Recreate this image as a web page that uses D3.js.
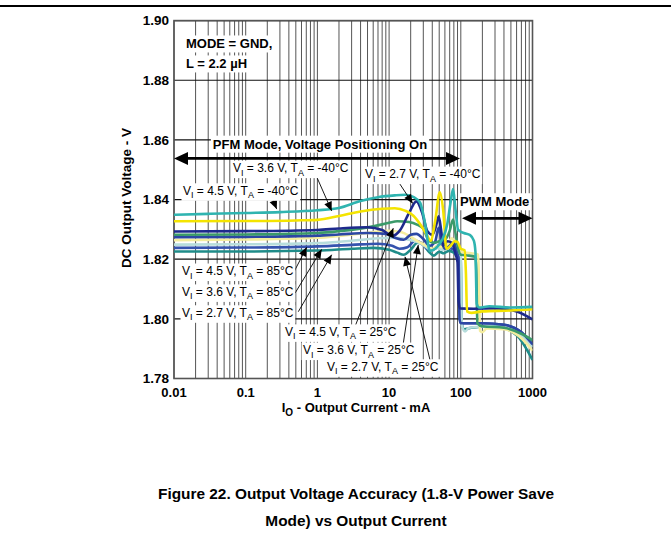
<!DOCTYPE html>
<html>
<head>
<meta charset="utf-8">
<script src="https://cdn.jsdelivr.net/npm/d3@7"></script>
<style>
  body { margin: 0; background: #fff; }
  text { font-family: "Liberation Sans", Arial, Helvetica, sans-serif; }
</style>
</head>
<body>
<svg id="chart" width="671" height="548"></svg>
<script>
// axes
const xDomain = [0.01, 1000];
const yDomain = [1.78, 1.90];
const xTicks = [0.01, 0.1, 1, 10, 100, 1000];
const xTickLabels = ["0.01", "0.1", "1", "10", "100", "1000"];
const yTicks = [1.78, 1.80, 1.82, 1.84, 1.86, 1.88, 1.90];
const yTickLabels = ["1.78", "1.80", "1.82", "1.84", "1.86", "1.88", "1.90"];

// series, [I (mA), Vout (V)]
const vi36_m40 = [[0.01,1.8349],[0.03,1.8352],[0.1,1.8355],[0.3,1.8358],[1,1.8364],[2,1.8372],[4,1.8395],[7,1.8408],[12,1.8414],[17,1.8416],[22,1.8408],[27,1.839],[32,1.8315],[37,1.8228],[44,1.8235],[55,1.8265],[65,1.832],[72,1.839],[78,1.8435],[84,1.837],[92,1.8298],[110,1.8288],[135,1.8281],[152,1.8262],[160,1.8225],[167,1.805],[180,1.8038],[250,1.8042],[500,1.8038],[1000,1.8040]];
const vi45_m40 = [[0.01,1.8327],[0.1,1.8328],[0.5,1.8330],[1,1.8332],[2,1.8345],[4,1.836],[8,1.8369],[12,1.8371],[17,1.8362],[22,1.8345],[27,1.8318],[33,1.8285],[38,1.8262],[44,1.833],[51,1.8424],[57,1.836],[63,1.8235],[72,1.8245],[82,1.826],[90,1.8258],[100,1.8235],[113,1.823],[118,1.815],[122,1.8025],[140,1.802],[200,1.8025],[500,1.8028],[1000,1.8032]];
const vi27_m40 = [[0.01,1.8293],[0.1,1.8294],[1,1.8298],[2,1.8303],[5,1.8307],[8,1.8298],[11,1.8278],[14,1.8295],[19,1.8355],[24,1.8394],[29,1.8355],[34,1.8295],[40,1.8282],[45,1.831],[49,1.8344],[53,1.830],[57,1.8245],[65,1.826],[75,1.8255],[85,1.8215],[90,1.819],[93,1.806],[97,1.8035],[150,1.8034],[300,1.8035],[600,1.8025],[1000,1.7998]];
const vi45_25 = [[0.01,1.8282],[0.1,1.8283],[1,1.8288],[2,1.8294],[6,1.831],[10,1.8322],[13,1.8327],[19,1.8325],[25,1.8315],[30,1.8302],[36,1.8262],[42,1.8255],[50,1.826],[60,1.8265],[70,1.8295],[78,1.8333],[84,1.829],[92,1.8235],[100,1.8215],[130,1.8212],[160,1.8208],[165,1.815],[170,1.7985],[200,1.7975],[400,1.797],[700,1.795],[1000,1.7928]];
const vi36_25 = [[0.01,1.8274],[0.1,1.8275],[1,1.8279],[2,1.8283],[5,1.8288],[9,1.8285],[12,1.8272],[16,1.8265],[20,1.8282],[24,1.8285],[30,1.8268],[37,1.8245],[44,1.826],[49,1.8305],[54,1.826],[60,1.8235],[70,1.8245],[80,1.8255],[88,1.8225],[93,1.82],[96,1.80],[100,1.7985],[200,1.7985],[400,1.798],[700,1.7955],[1000,1.7915]];
const vi27_25 = [[0.01,1.8264],[0.1,1.8266],[1,1.8272],[2,1.8278],[5,1.8288],[10,1.8295],[15,1.829],[20,1.8275],[26,1.8258],[33,1.8245],[40,1.8235],[48,1.8245],[56,1.824],[65,1.8248],[75,1.827],[85,1.8255],[100,1.8225],[140,1.822],[175,1.8215],[180,1.81],[185,1.796],[200,1.7955],[230,1.7968],[400,1.7965],[700,1.7935],[1000,1.7893]];
const vi45_85 = [[0.01,1.8249],[0.1,1.825],[1,1.8254],[3,1.8262],[7,1.827],[12,1.8272],[17,1.8268],[22,1.8262],[28,1.8252],[34,1.8238],[40,1.823],[47,1.8238],[55,1.8232],[65,1.8235],[75,1.8245],[85,1.8235],[95,1.822],[100,1.8215],[103,1.798],[115,1.7958],[130,1.797],[250,1.7975],[500,1.7965],[1000,1.7905]];
const vi36_85 = [[0.01,1.8238],[0.1,1.8239],[1,1.8243],[3,1.8248],[7,1.8252],[11,1.8245],[14,1.8235],[18,1.824],[23,1.8262],[28,1.8255],[34,1.8235],[40,1.823],[50,1.8248],[58,1.8235],[68,1.8238],[80,1.8232],[90,1.8215],[95,1.82],[98,1.799],[105,1.7985],[200,1.7985],[400,1.798],[700,1.7955],[1000,1.7912]];
const vi27_85 = [[0.01,1.8226],[0.1,1.8226],[1,1.8229],[3,1.8235],[6,1.8238],[10,1.8232],[13,1.8222],[16,1.8215],[20,1.8232],[25,1.8255],[30,1.8248],[36,1.8225],[42,1.8212],[50,1.8225],[58,1.822],[68,1.8228],[80,1.8222],[92,1.8205],[100,1.82],[103,1.7985],[110,1.7965],[140,1.797],[300,1.7975],[600,1.7945],[1000,1.7862]];

// draw order: bottom first
const seriesData = [vi27_85, vi36_85, vi45_85, vi27_25, vi36_25, vi45_25, vi27_m40, vi45_m40, vi36_m40];
const seriesColors = ["#1f8c89", "#3553ae", "#b7dddc", "#f4ed9f", "#2c47a4", "#3b9a6a", "#1d298c", "#f4e400", "#2fb4b0"];

// annotations: label text start (I, V center), arrow start, arrow tip
const annVi = ["3.6", "4.5", "2.7", "4.5", "3.6", "2.7", "4.5", "3.6", "2.7"];
const annTa = ["-40", "-40", "-40", "85", "85", "85", "25", "25", "25"];
const annAt = [[0.0665,1.8506],[0.01335,1.8430],[4.61,1.8486],[0.01293,1.8161],[0.01293,1.8091],[0.01293,1.8021],[0.3533,1.7957],[0.63,1.7896],[1.361,1.7840]];
const annFrom = [[0.926,1.8489],[0.2305,1.8410],[13.44,1.8460],[0.4613,1.8153],[0.487,1.8086],[0.5417,1.8024],[3.344,1.7974],[15.78,1.7918],[37.2,1.7862]];
const annTo = [[1.582,1.8362],[0.2706,1.8368],[21.3,1.8387],[0.709,1.8240],[1.148,1.8233],[1.582,1.8215],[11.44,1.8304],[25.5,1.8248],[16.67,1.8208]];

// mode arrows
const pfmSpan = [0.01, 97.5], pfmLevel = 1.8538, pfmTextAt = [1.087, 1.8586];
const pwmSpan = [104, 1000], pwmLevel = 1.8337, pwmTextAt = [297, 1.8393];
const condAt = [0.0147, 1.8922, 1.8855];

const svg = d3.select("#chart");
const x = d3.scaleLog().domain(xDomain).range([174, 532.5]);
const y = d3.scaleLinear().domain(yDomain).range([378.5, 20.6]);

// page rule
svg.append("line").attr("x1", 0).attr("x2", 671).attr("y1", 6).attr("y2", 6)
  .attr("stroke", "#000").attr("stroke-width", 2);

// grid
const minor = [];
for (let k = -2; k <= 2; k++) for (let m = 1; m <= 9; m++) minor.push(m * Math.pow(10, k));
minor.push(1000);
const grid = svg.append("g");
grid.selectAll("line.v").data(minor).join("line").attr("class", "v")
  .attr("x1", d => x(d)).attr("x2", d => x(d))
  .attr("y1", y(yDomain[0])).attr("y2", y(yDomain[1]))
  .attr("stroke", "#2a2a2a").attr("stroke-width", 0.8);
grid.selectAll("line.h").data(yTicks).join("line").attr("class", "h")
  .attr("x1", x(xDomain[0])).attr("x2", x(xDomain[1]))
  .attr("y1", d => y(d)).attr("y2", d => y(d))
  .attr("stroke", "#111").attr("stroke-width", 1.2);
grid.append("rect")
  .attr("x", x(xDomain[0])).attr("y", y(yDomain[1]))
  .attr("width", x(xDomain[1]) - x(xDomain[0])).attr("height", y(yDomain[0]) - y(yDomain[1]))
  .attr("fill", "none").attr("stroke", "#555").attr("stroke-width", 1.6);

// tick labels
svg.append("g").selectAll("text").data(yTicks).join("text")
  .attr("x", x(xDomain[0]) - 5).attr("y", d => y(d)).attr("dy", "0.36em")
  .attr("text-anchor", "end").attr("font-weight", "bold").attr("font-size", 13.5)
  .text((d, i) => yTickLabels[i]);
svg.append("g").selectAll("text").data(xTicks).join("text")
  .attr("x", d => x(d)).attr("y", 396.5)
  .attr("text-anchor", "middle").attr("font-weight", "bold").attr("font-size", 13)
  .text((d, i) => xTickLabels[i]);

// axis titles
const xt = svg.append("text").attr("x", 356).attr("y", 411.5)
  .attr("text-anchor", "middle").attr("font-weight", "bold").attr("font-size", 13);
xt.append("tspan").text("I");
xt.append("tspan").attr("font-size", 10).attr("dy", 4).text("O");
xt.append("tspan").attr("dy", -4).text(" - Output Current - mA");
svg.append("text").attr("transform", "translate(131,198) rotate(-90)")
  .attr("text-anchor", "middle").attr("font-weight", "bold").attr("font-size", 13.5)
  .text("DC Output Voltage - V");

// curves
const line = d3.line().x(d => x(d[0])).y(d => y(d[1])).curve(d3.curveMonotoneX);
svg.append("clipPath").attr("id", "plotclip").append("rect")
  .attr("x", x(xDomain[0])).attr("y", y(yDomain[1]))
  .attr("width", x(xDomain[1]) - x(xDomain[0])).attr("height", y(yDomain[0]) - y(yDomain[1]));
svg.append("g").attr("clip-path", "url(#plotclip)")
  .selectAll("path").data(seriesData).join("path")
  .attr("d", line).attr("fill", "none")
  .attr("stroke", (d, i) => seriesColors[i]).attr("stroke-width", 2.6)
  .attr("stroke-linejoin", "round");

// helpers
function withBg(textSel, pad) {
  const b = textSel.node().getBBox();
  const r = document.createElementNS("http://www.w3.org/2000/svg", "rect");
  textSel.node().parentNode.insertBefore(r, textSel.node());
  d3.select(r)
    .attr("x", b.x - pad).attr("y", b.y - pad + 1)
    .attr("width", b.width + 2 * pad).attr("height", b.height + 2 * pad - 2)
    .attr("fill", "#fff");
}
function arrowHead(g, x0, y0, x1, y1, len, half) {
  const a = Math.atan2(y1 - y0, x1 - x0);
  const bx = x1 - len * Math.cos(a), by = y1 - len * Math.sin(a);
  const px = -Math.sin(a) * half, py = Math.cos(a) * half;
  g.append("path")
    .attr("d", `M${x1},${y1}L${bx + px},${by + py}L${bx - px},${by - py}Z`)
    .attr("fill", "#000");
}

// label arrows
const ann = svg.append("g");
annFrom.forEach((f, i) => {
  const x0 = x(f[0]), y0 = y(f[1]), x1 = x(annTo[i][0]), y1 = y(annTo[i][1]);
  ann.append("line").attr("x1", x0).attr("y1", y0).attr("x2", x1).attr("y2", y1)
    .attr("stroke", "#000").attr("stroke-width", 0.9);
  arrowHead(ann, x0, y0, x1, y1, 9, 4);
});

// labels with subscripts
annAt.forEach((p, i) => {
  const g = ann.append("g");
  const t = g.append("text").attr("x", x(p[0])).attr("y", y(p[1]) + 4.2).attr("font-size", 12);
  t.append("tspan").text("V");
  t.append("tspan").attr("font-size", 9).attr("dy", 3.5).text("I");
  t.append("tspan").attr("dy", -3.5).text(` = ${annVi[i]} V, T`);
  t.append("tspan").attr("font-size", 9).attr("dy", 3.5).text("A");
  t.append("tspan").attr("dy", -3.5).text(` = ${annTa[i]}°C`);
  withBg(t, 1.5);
});

// conditions
const cond = svg.append("g");
["MODE = GND,", "L = 2.2 \u00b5H"].forEach((s, i) => {
  const t = cond.append("text").attr("x", x(condAt[0])).attr("y", y(condAt[1 + i]) + 4.6)
    .attr("font-weight", "bold").attr("font-size", 13).text(s);
  withBg(t, 2);
});

// mode arrows
const modes = svg.append("g");
function doubleArrow(span, level) {
  const x0 = x(span[0]), x1 = x(span[1]), yy = y(level);
  modes.append("line").attr("x1", x0 + 8).attr("x2", x1 - 8).attr("y1", yy).attr("y2", yy)
    .attr("stroke", "#000").attr("stroke-width", 2.6);
  arrowHead(modes, x1, yy, x0, yy, 14, 6.5);
  arrowHead(modes, x0, yy, x1, yy, 14, 6.5);
}
doubleArrow(pfmSpan, pfmLevel);
doubleArrow(pwmSpan, pwmLevel);
const pfmT = modes.append("text").attr("x", x(pfmTextAt[0])).attr("y", y(pfmTextAt[1]) + 4.6)
  .attr("text-anchor", "middle").attr("font-weight", "bold").attr("font-size", 13)
  .text("PFM Mode, Voltage Positioning On");
withBg(pfmT, 2);
const pwmT = modes.append("text").attr("x", x(pwmTextAt[0])).attr("y", y(pwmTextAt[1]) + 4.6)
  .attr("text-anchor", "middle").attr("font-weight", "bold").attr("font-size", 13)
  .text("PWM Mode");
withBg(pwmT, 2);

// caption
svg.append("text").attr("x", 356).attr("y", 499).attr("text-anchor", "middle")
  .attr("font-weight", "bold").attr("font-size", 15.4)
  .text("Figure 22. Output Voltage Accuracy (1.8-V Power Save");
svg.append("text").attr("x", 356).attr("y", 525.5).attr("text-anchor", "middle")
  .attr("font-weight", "bold").attr("font-size", 15.4)
  .text("Mode) vs Output Current");
</script>
</body>
</html>
